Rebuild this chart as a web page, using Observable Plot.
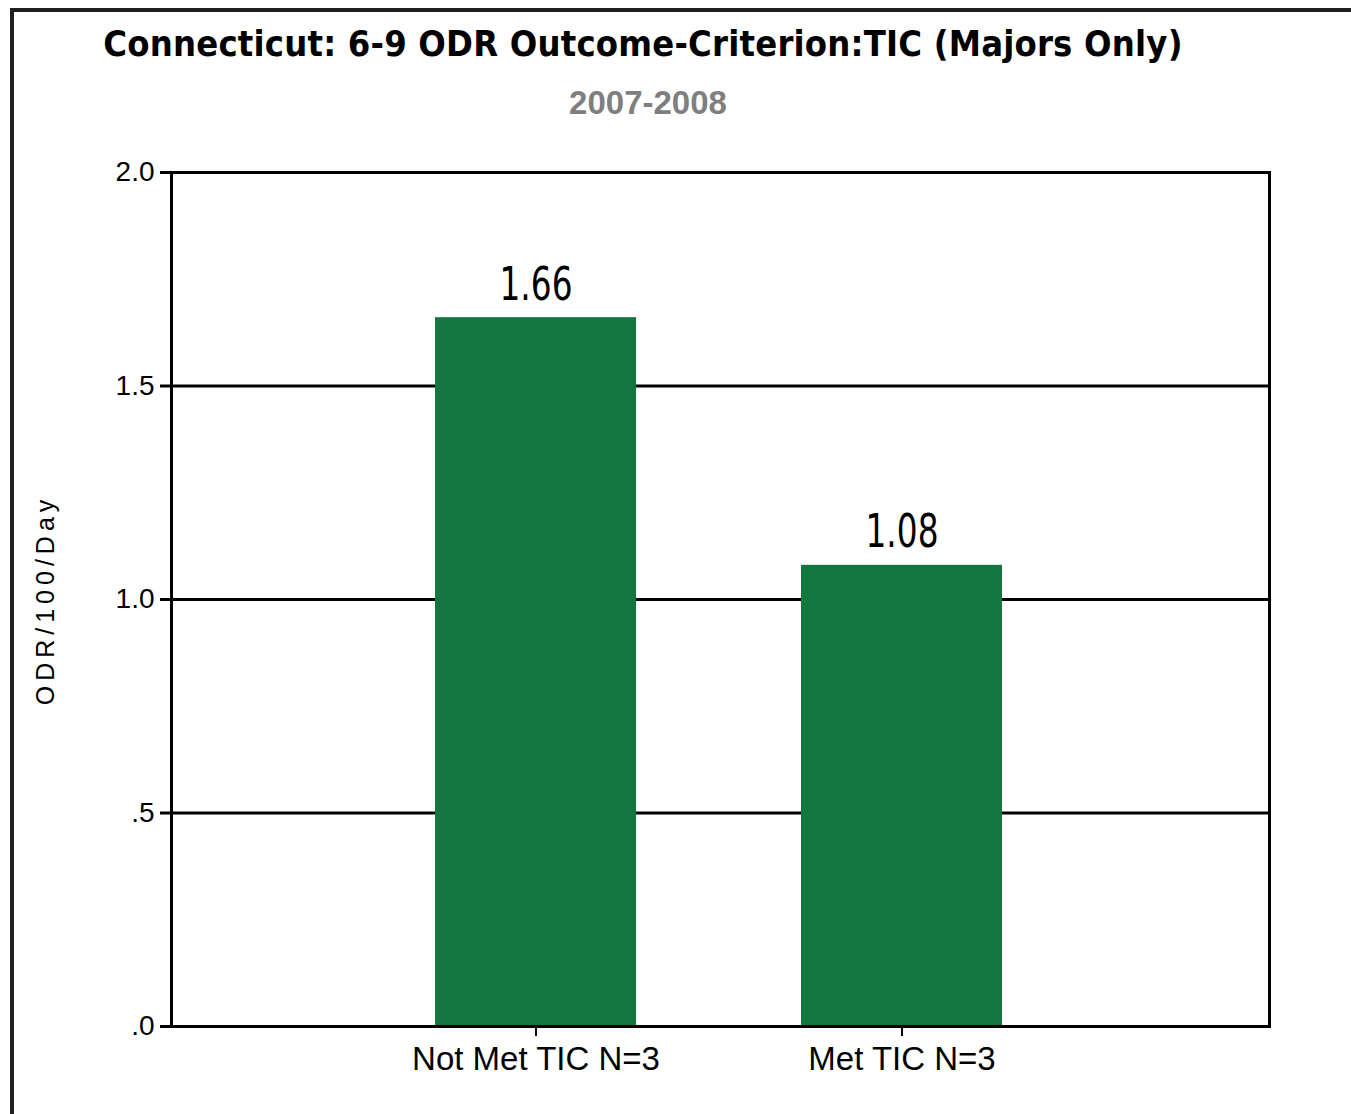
<!DOCTYPE html>
<html>
<head>
<meta charset="utf-8">
<script src="https://cdn.jsdelivr.net/npm/d3@7"></script>
<script src="https://cdn.jsdelivr.net/npm/@observablehq/plot@0.6"></script>
<style>
  html, body { margin: 0; padding: 0; background: #fff; }
  #wrap { position: relative; width: 1351px; height: 1114px; overflow: hidden; background: #fff; font-family: "Liberation Sans", Arial, sans-serif; }
  #border { position: absolute; left: 10px; top: 8px; width: 1400px; height: 1200px; border: 4px solid #231f20; box-sizing: border-box; }
  #title { position: absolute; left: 0; width: 1286px; top: 23px; text-align: center; font-weight: bold; font-size: 36px; letter-spacing: 0.2px; color: #000; white-space: nowrap; font-family: "DejaVu Sans Condensed", "Liberation Sans", sans-serif; }
  #subtitle { position: absolute; left: 0; width: 1296px; top: 84px; text-align: center; font-weight: bold; font-size: 33px; color: #7f7f7f; }
  #ylabel { position: absolute; left: 45px; top: 600px; transform: translate(-50%, -50%) rotate(-90deg); font-size: 25px; letter-spacing: 5px; white-space: nowrap; color: #000; }
  #chart { position: absolute; left: 0; top: 0; }
</style>
</head>
<body>
<div id="wrap">
  <div id="border"></div>
  <div id="chart"></div>
  <div id="title"></div>
  <div id="subtitle"></div>
  <div id="ylabel"></div>
</div>
<script>
// ---- data ----
const titleText = "Connecticut: 6-9 ODR Outcome-Criterion:TIC (Majors Only)";
const subtitleText = "2007-2008";
const yLabelText = "ODR/100/Day";
const categories = ["Not Met TIC N=3", "Met TIC N=3"];
const values = [1.66, 1.08];
const yTicks = [0, 0.5, 1.0, 1.5, 2.0];
const gridValues = [0.5, 1.0, 1.5];

const data = categories.map((c, i) => ({category: c, value: values[i]}));

document.getElementById("title").textContent = titleText;
document.getElementById("subtitle").textContent = subtitleText;
document.getElementById("ylabel").textContent = yLabelText;

const fmt = d => d3.format(".1f")(d).replace(/^0/, "");

const chart = Plot.plot({
  width: 1351,
  height: 1114,
  marginLeft: 171,
  marginRight: 82,
  marginTop: 172,
  marginBottom: 88,
  style: {background: "transparent", fontFamily: "'Liberation Sans', Arial, sans-serif", color: "#000"},
  x: {type: "band", domain: categories, paddingInner: 0.452, paddingOuter: 0.722, align: 0.497},
  y: {domain: [0, 2]},
  marks: [
    Plot.ruleY(gridValues, {stroke: "#000", strokeWidth: 3}),
    Plot.barY(data, {x: "category", y: "value", fill: "#13763e"}),
    Plot.text(data, {x: "category", y: "value", text: d => d.value.toFixed(2), lineAnchor: "bottom", dy: -18, fontSize: 46, fontFamily: "'DejaVu Sans Condensed', sans-serif", fill: "#000", className: "vlabel"}),
    Plot.axisY({ticks: yTicks, tickFormat: fmt, tickSize: 11, tickPadding: 6, fontSize: 28, strokeWidth: 3, label: null}),
    Plot.axisX({tickSize: 10, tickPadding: 10, fontSize: 33, strokeWidth: 2, label: null}),
    Plot.frame({stroke: "#000", strokeWidth: 3})
  ]
});
document.getElementById("chart").appendChild(chart);
// narrow the value labels to match the condensed face
chart.querySelectorAll(".vlabel text").forEach(t => {
  t.setAttribute("textLength", 73);
  t.setAttribute("lengthAdjust", "spacingAndGlyphs");
});
</script>
</body>
</html>
